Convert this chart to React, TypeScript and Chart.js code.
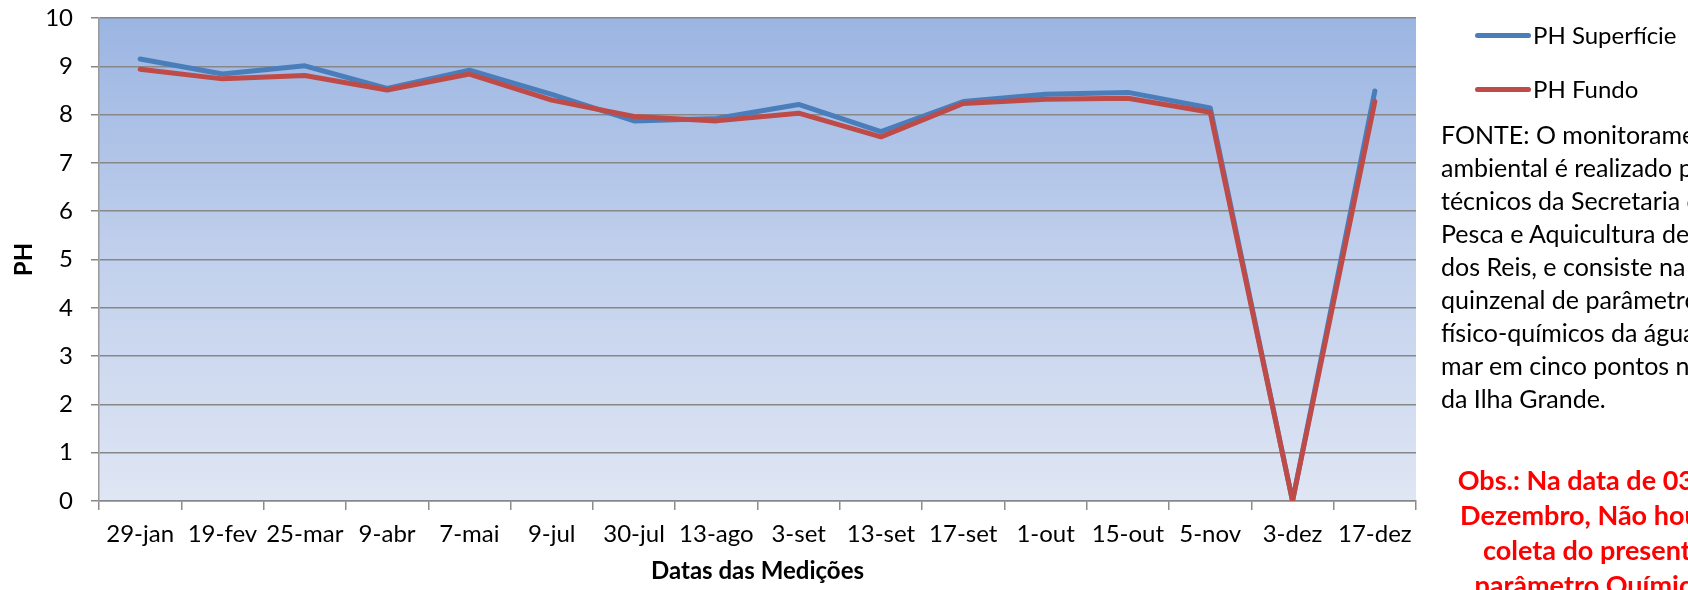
import React, { useEffect, useRef } from 'react';
import { Chart, registerables } from 'chart.js';

Chart.register(...registerables);

const categories = ['29-jan', '19-fev', '25-mar', '9-abr', '7-mai', '9-jul', '30-jul', '13-ago', '3-set', '13-set', '17-set', '1-out', '15-out', '5-nov', '3-dez', '17-dez'];
const phSuperficie = [9.15, 8.84, 9.01, 8.54, 8.92, 8.42, 7.87, 7.92, 8.21, 7.65, 8.27, 8.42, 8.46, 8.14, 0, 8.49];
const phFundo = [8.94, 8.74, 8.81, 8.51, 8.84, 8.3, 7.96, 7.87, 8.03, 7.54, 8.23, 8.32, 8.34, 8.05, 0, 8.27];
const seriesNames = ['PH Superfície', 'PH Fundo'];
const seriesColors = ['#4A7EBB', '#BE4B48'];
const yAxisTitle = 'PH';
const xAxisTitle = 'Datas das Medições';
const fonteLines = [
  'FONTE: O monitoramento',
  'ambiental é realizado pelos',
  'técnicos da Secretaria de',
  'Pesca e Aquicultura de Angra',
  'dos Reis, e consiste na coleta',
  'quinzenal de parâmetros',
  'físico-químicos da água do',
  'mar em cinco pontos no entorno',
  'da Ilha Grande.',
];
const obsLines = ['Obs.: Na data de 03 de', 'Dezembro, Não houve', 'coleta do presente', 'parâmetro Químico.'];

const FONT = 'Lato, "Open Sans", sans-serif';

export default function App() {
  const ref = useRef<HTMLCanvasElement>(null);

  useEffect(() => {
    document.body.style.margin = '0';
    const bg = {
      id: 'bgGradient',
      beforeDraw(chart: any) {
        const { ctx, chartArea: a } = chart;
        const g = ctx.createLinearGradient(0, a.top, 0, a.bottom);
        g.addColorStop(0, '#9BB5E2');
        g.addColorStop(0.5, '#C1D0EC');
        g.addColorStop(1, '#DFE6F4');
        ctx.save();
        ctx.fillStyle = g;
        ctx.fillRect(a.left, a.top, a.right - a.left, a.bottom - a.top);
        ctx.restore();
      },
    };
    const chart = new Chart(ref.current as HTMLCanvasElement, {
      type: 'line',
      data: {
        labels: categories,
        datasets: [
          {
            label: seriesNames[0],
            data: phSuperficie,
            borderColor: seriesColors[0],
            backgroundColor: seriesColors[0],
            borderWidth: 5,
            pointRadius: 0,
            tension: 0,
            borderCapStyle: 'round',
            borderJoinStyle: 'round',
            order: 2,
          },
          {
            label: seriesNames[1],
            data: phFundo,
            borderColor: seriesColors[1],
            backgroundColor: seriesColors[1],
            borderWidth: 5,
            pointRadius: 0,
            tension: 0,
            borderCapStyle: 'round',
            borderJoinStyle: 'round',
            order: 1,
          },
        ],
      },
      options: {
        responsive: false,
        animation: false,
        devicePixelRatio: 1,
        layout: { padding: { left: 0, top: 0, right: 272, bottom: 0 } },
        plugins: { legend: { display: false }, tooltip: { enabled: false } },
        scales: {
          x: {
            offset: true,
            grid: { display: true, drawOnChartArea: false, drawTicks: true, tickLength: 9, offset: true, color: '#8C8C8C', lineWidth: 1.5 },
            border: { display: true, color: '#878787', width: 1.5 },
            ticks: { color: '#000', font: { family: FONT, size: 24 }, padding: 9.5, maxRotation: 0, autoSkip: false },
            title: { display: true, text: xAxisTitle, color: '#000', font: { family: FONT, size: 24, weight: 'bold' }, padding: { top: 0, bottom: 4 } },
            afterFit: (s: any) => { s.height = 89; },
          },
          y: {
            min: 0,
            max: 10,
            ticks: { stepSize: 1, color: '#000', font: { family: FONT, size: 24, lineHeight: 0 }, padding: 18 },
            grid: { color: '#878787', lineWidth: 1.5, tickLength: 8, drawTicks: true },
            border: { display: true, color: '#9A9A9A', width: 1.5 },
            title: { display: true, text: yAxisTitle, color: '#000', font: { family: FONT, size: 24, weight: 'bold' }, padding: { top: 10, bottom: 0 } },
            afterFit: (s: any) => { s.width = 99; },
          },
        },
      },
      plugins: [bg],
    } as any);
    return () => chart.destroy();
  }, []);

  return (
    <div style={{ position: 'relative', width: 1688, height: 590, overflow: 'hidden', background: '#fff' }}>
      <canvas ref={ref} width={1688} height={590} style={{ position: 'absolute', left: 0, top: 0, width: 1688, height: 590 }} />
      {seriesNames.map((name, i) => (
        <div key={name} style={{ position: 'absolute', left: 1475, top: (i === 0 ? 35 : 89) - 15, height: 30, display: 'flex', alignItems: 'center', whiteSpace: 'nowrap' }}>
          <span style={{ display: 'inline-block', width: 56, height: 5, borderRadius: 3, background: seriesColors[i], marginRight: 2 }} />
          <span style={{ fontFamily: FONT, fontSize: 24, color: '#000', lineHeight: '30px' }}>{name}</span>
        </div>
      ))}
      <div style={{ position: 'absolute', left: 1441, top: 134 - 16.5, fontFamily: FONT, fontSize: 25, lineHeight: '33px', color: '#000', whiteSpace: 'nowrap' }}>
        {fonteLines.map((l) => (
          <div key={l}>{l}</div>
        ))}
      </div>
      <div style={{ position: 'absolute', left: 1441, width: 306, top: 479 - 17.5, fontFamily: FONT, fontSize: 27, fontWeight: 'bold', lineHeight: '35px', color: '#FF0000', whiteSpace: 'nowrap', textAlign: 'center' }}>
        {obsLines.map((l) => (
          <div key={l}>{l}</div>
        ))}
      </div>
    </div>
  );
}
